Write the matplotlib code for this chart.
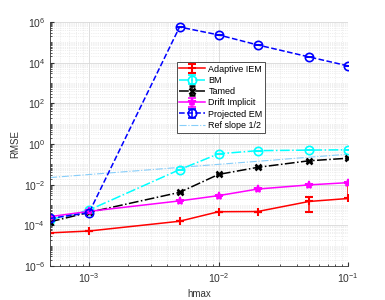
import matplotlib.pyplot as plt
import matplotlib.ticker as mticker
import numpy as np

plt.rcParams['font.family'] = ['Liberation Sans', 'DejaVu Sans']
plt.rcParams['font.size'] = 7

hmax = [5e-4, 1e-3, 5e-3, 1e-2, 2e-2, 5e-2, 1e-1]

adaptive = [4.3e-5, 5.3e-5, 1.6e-4, 4.7e-4, 4.8e-4, 1.5e-3, 2.1e-3]
adaptive_lo = [0, 0, 0, 0, 0, 1.05e-3, 0]
adaptive_hi = [0, 0, 0, 0, 0, 1.1e-3, 1.0e-2]
bm = [1.9e-4, 5.7e-4, 5.5e-2, 3.3e-1, 4.7e-1, 5.0e-1, 5.2e-1]
tamed = [1.5e-4, 4.4e-4, 4.2e-3, 3.2e-2, 7.1e-2, 1.5e-1, 2.0e-1]
drift = [2.7e-4, 4.9e-4, 1.6e-3, 2.9e-3, 6.1e-3, 9.8e-3, 1.26e-2]
projected = [2.2e-4, 4.2e-4, 5.6e5, 2.3e5, 7.4e4, 1.9e4, 6.9e3]
ref = [0.0224, 0.0316, 0.0707, 0.1, 0.141, 0.224, 0.316]

fig = plt.figure(figsize=(3.85, 3.0), dpi=100)
ax = fig.add_axes([0.130, 0.113, 0.774, 0.814])

zero = [0] * len(hmax)
lw = 1.1
h1 = ax.errorbar(hmax, adaptive, yerr=[adaptive_lo, adaptive_hi], color='red', ls='-', lw=lw,
                 marker='+', ms=6, mew=1.5, capsize=3, label='Adaptive IEM')
h2 = ax.errorbar(hmax, bm, yerr=zero, color='cyan', ls='-.', lw=lw, marker='o', ms=6,
                 mfc='none', mew=1.2, capsize=3, label='BM')
h3 = ax.errorbar(hmax, tamed, yerr=zero, color='black', ls='-.', lw=lw, marker='x', ms=4,
                 mew=1.8, capsize=2, label='Tamed')
h4 = ax.errorbar(hmax, drift, yerr=zero, color='magenta', ls='-', lw=lw, marker='*', ms=6,
                 mew=1.2, capsize=3, label='Drift Implicit')
h5 = ax.errorbar(hmax, projected, yerr=zero, color='blue', ls='--', lw=lw, marker='o', ms=6,
                 mfc='none', mew=1.2, capsize=3, label='Projected EM')
h6, = ax.plot(hmax, ref, color='#87cefa', ls='-.', lw=0.8, label='Ref slope 1/2')

ax.set_xscale('log')
ax.set_yscale('log')
ax.set_xlim(5e-4, 1e-1)
ax.set_ylim(1e-6, 1e6)
ax.set_yticks([1e-6, 1e-4, 1e-2, 1e0, 1e2, 1e4, 1e6])
ax.yaxis.set_minor_locator(mticker.LogLocator(base=10, subs=np.arange(1, 10), numticks=30))
ax.yaxis.set_minor_formatter(mticker.NullFormatter())

ax.grid(True, which='major', color='#d8d8d8', lw=0.6)
ax.grid(True, which='minor', color='#e0e0e0', lw=0.5, ls=':')
ax.set_axisbelow(True)
for s in ['top', 'right']:
    ax.spines[s].set_visible(False)
for s in ['left', 'bottom']:
    ax.spines[s].set_color('#333333')
    ax.spines[s].set_linewidth(0.6)
ax.tick_params(which='both', direction='in', colors='#333333', labelsize=7.5)
ax.tick_params(which='major', length=3)
ax.tick_params(which='minor', length=1.5)

ax.set_xlabel('hmax', color='#333333', labelpad=3)
ax.set_ylabel('RMSE', color='#333333', labelpad=2)

leg = ax.legend([h1, h2, h3, h4, h5, h6],
                ['Adaptive IEM', 'BM', 'Tamed', 'Drift Implicit', 'Projected EM', 'Ref slope 1/2'],
                loc='upper left', bbox_to_anchor=(0.41, 0.855), fontsize=6.5,
                fancybox=False, edgecolor='#333333', framealpha=1,
                handlelength=2.8, labelspacing=0.25, borderpad=0.3, handletextpad=0.4)
leg.get_frame().set_linewidth(0.6)

fig.savefig('out.png', dpi=100)
